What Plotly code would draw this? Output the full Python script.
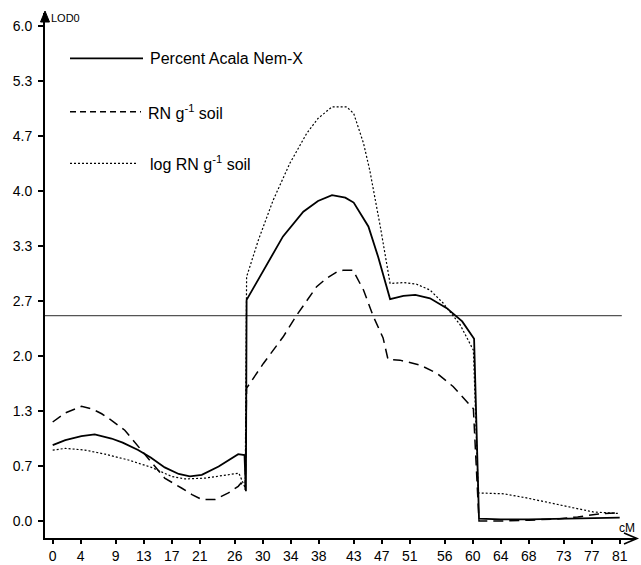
import plotly.graph_objects as go

# ---------------- data ----------------
pct_x = [0, 1.8, 4.1, 6, 8.4, 10, 12.2, 14, 16, 18, 19.6, 21.3, 23.7, 25.1, 26.5, 27.4, 27.6,
         27.7, 30.1, 32.9, 35.8, 37.9, 39.9, 41.8, 43, 45.1, 46.5, 48.2, 50.1, 51.8, 53.9,
         56.3, 58.5, 60.2, 60.9, 64, 68, 73, 77, 81]
pct_y = [0.92, 0.98, 1.03, 1.05, 1.00, 0.95, 0.86, 0.77, 0.65, 0.57, 0.54, 0.56, 0.66, 0.74, 0.81, 0.80, 0.36,
         2.68, 3.04, 3.45, 3.75, 3.88, 3.95, 3.92, 3.86, 3.57, 3.20, 2.69, 2.73, 2.74, 2.70,
         2.58, 2.42, 2.21, 0.03, 0.02, 0.02, 0.03, 0.035, 0.04]

rn_x = [0, 1.8, 4.1, 5.6, 7, 8.4, 10.3, 11.3, 12.7, 14.1, 16, 18.4, 19.9, 21.3, 23.2, 25.1, 26.5, 26.9, 27.5,
        27.7, 30.1, 32.9, 34.9, 37.7, 39.1, 40.6, 41.5, 42.9, 44.4, 45.8, 47.2, 47.9, 49.6, 52.5,
        54.9, 57.2, 59.6, 60.1, 60.9, 64, 68, 72, 75, 78, 81]
rn_y = [1.20, 1.31, 1.39, 1.36, 1.30, 1.22, 1.10, 1.00, 0.86, 0.72, 0.52, 0.40, 0.32, 0.26, 0.26, 0.34, 0.42, 0.46, 0.38,
        1.61, 1.91, 2.23, 2.50, 2.84, 2.94, 3.02, 3.04, 3.04, 2.80, 2.48, 2.22, 1.96, 1.95, 1.89,
        1.79, 1.63, 1.41, 1.36, 0.00, 0.00, 0.01, 0.025, 0.05, 0.085, 0.10]

log_x = [0, 1.8, 4.6, 7.5, 10.8, 14.1, 17, 18.9, 21.8, 24.6, 26.6, 27.5,
         27.7, 29.4, 31.5, 33.9, 36.3, 37.9, 39.9, 42, 43, 44.4, 45.3, 46.8, 48.2, 50.1, 52,
         53.9, 55.8, 58.2, 60.1, 60.8, 64.4, 67.7, 72.5, 77.2, 81]
log_y = [0.86, 0.88, 0.86, 0.81, 0.74, 0.65, 0.54, 0.51, 0.52, 0.56, 0.58, 0.40,
         2.96, 3.41, 3.89, 4.34, 4.70, 4.88, 5.02, 5.02, 4.94, 4.58, 4.25, 3.57, 2.88, 2.89, 2.87,
         2.80, 2.64, 2.38, 2.07, 0.34, 0.33, 0.28, 0.19, 0.11, 0.09]

threshold_lod = 2.49
threshold_end = 81.3

x_ticks = [0, 4, 9, 13, 17, 21, 26, 30, 34, 38, 43, 47, 51, 56, 60, 64, 68, 73, 77, 81]
y_ticks = [0.0, 0.667, 1.333, 2.0, 2.667, 3.333, 4.0, 4.667, 5.333, 6.0]
y_tick_text = ["0.0", "0.7", "1.3", "2.0", "2.7", "3.3", "4.0", "4.7", "5.3", "6.0"]

series_names = ["Percent Acala Nem-X", "RN g<sup>-1</sup> soil", "log RN g<sup>-1</sup> soil"]

# ---------------- layout geometry ----------------
W, H = 641, 565
ML, MR, MT, MB = 45, 5, 13, 27
XR = [-1.1, 83.33]
YR = [-0.206, 6.158]
PW, PH = W - ML - MR, H - MT - MB

def px(xp):
    return (xp - ML) / PW

def py(yp):
    return (H - MB - yp) / PH

TICKF = "Liberation Sans, Arial, sans-serif"
SANS = "Liberation Sans, Arial, sans-serif"

fig = go.Figure()

fig.add_trace(go.Scatter(x=[XR[0], threshold_end], y=[threshold_lod, threshold_lod], mode="lines",
                         line=dict(color="#555555", width=1.2), showlegend=False, hoverinfo="skip"))
fig.add_trace(go.Scatter(x=log_x, y=log_y, mode="lines", name=series_names[2],
                         line=dict(color="black", width=1.2, dash="2px,2px"), showlegend=False))
fig.add_trace(go.Scatter(x=rn_x, y=rn_y, mode="lines", name=series_names[1],
                         line=dict(color="black", width=1.5, dash="10px,6px"), showlegend=False))
fig.add_trace(go.Scatter(x=pct_x, y=pct_y, mode="lines", name=series_names[0],
                         line=dict(color="black", width=1.8), showlegend=False))

axis_common = dict(showgrid=False, zeroline=False)
fig.update_layout(
    width=W, height=H,
    margin=dict(l=ML, r=MR, t=MT, b=MB, pad=0),
    paper_bgcolor="white", plot_bgcolor="white",
    xaxis=dict(range=XR, tickmode="array", tickvals=x_ticks, ticktext=[str(v) for v in x_ticks],
               ticks="outside", ticklen=4, tickwidth=1.5, tickcolor="black",
               showline=True, linecolor="black", linewidth=2, automargin=False,
               tickfont=dict(family=TICKF, size=14, color="black"), **axis_common),
    xaxis2=dict(range=XR, overlaying="x", anchor="y", side="bottom", tickmode="array", tickvals=x_ticks,
                ticks="inside", ticklen=4, tickwidth=1.5, tickcolor="black",
                showticklabels=False, showline=False, **axis_common),
    yaxis=dict(range=YR, tickmode="array", tickvals=y_ticks, ticktext=y_tick_text,
               ticks="outside", ticklen=5, tickwidth=1.5, tickcolor="black",
               showline=True, linecolor="black", linewidth=2, ticklabelstandoff=3, automargin=False,
               tickfont=dict(family=TICKF, size=14, color="black"), **axis_common),
    yaxis2=dict(range=YR, overlaying="y", anchor="x", side="left", tickmode="array", tickvals=y_ticks,
                ticks="inside", ticklen=5, tickwidth=1.5, tickcolor="black",
                showticklabels=False, showline=False, **axis_common),
)

annotations = [
    dict(x=px(49), y=py(18), xref="paper", yref="paper", text="LOD0", showarrow=False,
         xanchor="left", yanchor="middle", font=dict(family=TICKF, size=11, color="black")),
    dict(x=px(637), y=py(528), xref="paper", yref="paper", text="cM", showarrow=False,
         xanchor="right", yanchor="middle", font=dict(family=TICKF, size=12, color="black")),
]

# axis arrow heads
y_arrow = "M {},{} L {},{} L {},{} Z".format(px(45), py(11), px(40.5), py(22), px(49.5), py(22))
x_arrow = "M {},{} L {},{} L {},{}".format(px(624), py(533), px(637), py(538.5), px(624), py(544))
shapes = [
    dict(type="path", xref="paper", yref="paper", path=y_arrow, fillcolor="black",
         line=dict(color="black", width=1)),
    dict(type="path", xref="paper", yref="paper", path=x_arrow,
         line=dict(color="black", width=1.6)),
]

legend_rows = [  # (line y px, line end px, text start px, dash, width)
    (58.3, 143, 148, "solid", 1.8),
    (111.7, 141, 146, "6px,4px", 1.5),
    (163.3, 137, 148, "2px,2px", 1.2),
]
for name, (ly, lx1, tx, dash, lw) in zip(series_names, legend_rows):
    shapes.append(dict(type="line", xref="paper", yref="paper", x0=px(70), x1=px(lx1), y0=py(ly), y1=py(ly),
                       line=dict(color="black", width=lw, dash=dash)))
    annotations.append(dict(x=px(tx), y=py(ly), xref="paper", yref="paper", text=name, showarrow=False,
                            xanchor="left", yanchor="middle", font=dict(family=SANS, size=16, color="black")))

fig.update_layout(annotations=annotations, shapes=shapes)

fig.write_html("out.html", config={"displayModeBar": False},
               post_script="document.body.style.margin='0';")
